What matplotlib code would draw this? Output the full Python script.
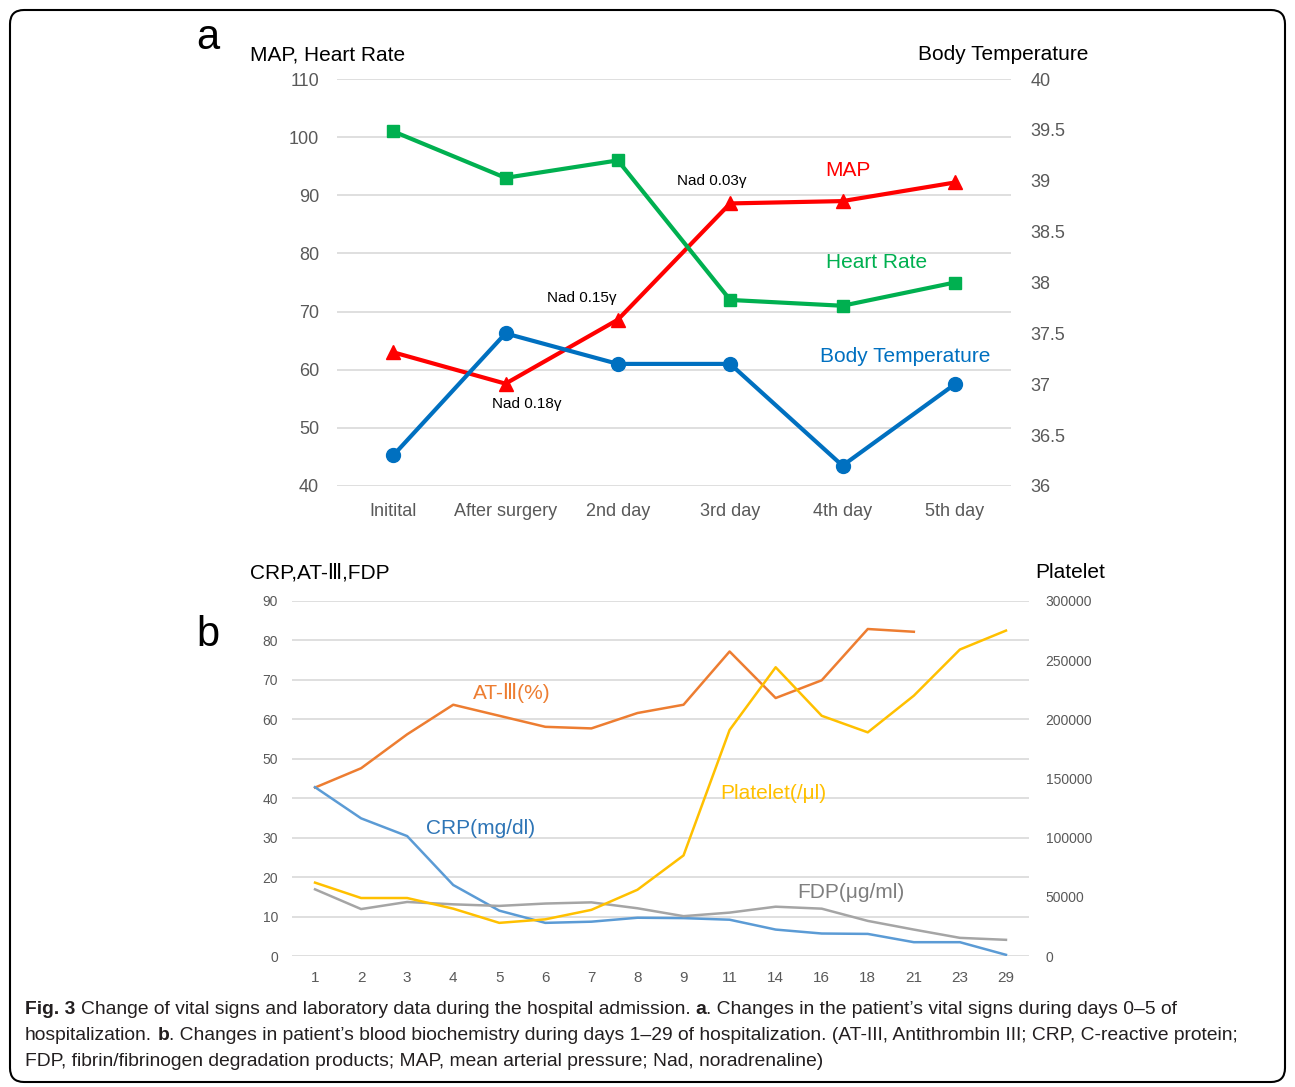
import numpy as np
import matplotlib
matplotlib.use('Agg')
import matplotlib.pyplot as plt
from matplotlib.patches import FancyBboxPatch
from matplotlib.transforms import IdentityTransform
from matplotlib.ticker import FuncFormatter

W, H = 1295, 1087

# panel a: vital signs
days_a = ['Initital', 'After surgery', '2nd day', '3rd day', '4th day', '5th day']
map_vals = [63.0, 57.6, 68.6, 88.6, 89.0, 92.2]
hr_vals = [101.0, 93.0, 96.0, 72.0, 71.0, 75.0]
temp_vals = [36.3, 37.5, 37.2, 37.2, 36.2, 37.0]

# panel b: laboratory data
days_b = ['1', '2', '3', '4', '5', '6', '7', '8', '9', '11', '14', '16', '18', '21', '23', '29']
at3 = [42.7, 47.6, 56.2, 63.7, 60.9, 58.1, 57.7, 61.6, 63.7, 77.2, 65.4, 69.9, 82.9, 82.2, np.nan, np.nan]
crp = [42.8, 34.9, 30.4, 18.0, 11.5, 8.4, 8.7, 9.7, 9.6, 9.2, 6.7, 5.7, 5.6, 3.5, 3.5, 0.3]
fdp = [16.9, 11.9, 13.7, 13.1, 12.7, 13.3, 13.6, 12.1, 10.1, 11.0, 12.5, 12.0, 8.9, 6.7, 4.6, 4.1]
platelet = [62000, 49000, 49000, 40000, 28000, 31000, 39000, 56000, 85000,
            191000, 244000, 203000, 189000, 220000, 259000, 275000]

plt.rcParams['font.family'] = ['Liberation Sans', 'DejaVu Sans', 'Noto Sans CJK JP']

TICK = '#595959'
GRID = '#D9D9D9'


def px(x, y):
    return x / W, 1 - y / H


def clean(ax):
    for s in ax.spines.values():
        s.set_visible(False)
    ax.tick_params(length=0, labelcolor=TICK)


fig = plt.figure(figsize=(W / 100, H / 100), dpi=100)

# ---- panel a ----
ax = fig.add_axes([337 / W, 1 - 486 / H, 674 / W, 407 / H])
xa = np.arange(len(days_a))
ax.set_xlim(-0.5, len(days_a) - 0.5)
ax.set_ylim(40, 110)
ax.set_yticks(np.arange(40, 111, 10))
ax.set_xticks(xa)
ax.set_xticklabels(days_a)
ax.yaxis.grid(True, color=GRID, lw=1.2)
ax.set_axisbelow(True)
clean(ax)
ax.tick_params(labelsize=13)
ax.tick_params(axis='y', pad=13)
ax.tick_params(axis='x', pad=12)
ax.plot(xa, map_vals, color='#FF0000', lw=3, marker='^', ms=10, zorder=3)
ax.plot(xa, hr_vals, color='#00B050', lw=3, marker='s', ms=8, zorder=4)

ax2 = ax.twinx()
ax2.set_ylim(36, 40)
ax2.set_yticks(np.arange(36, 40.01, 0.5))
ax2.yaxis.set_major_formatter(FuncFormatter(lambda v, p: '%g' % v))
clean(ax2)
ax2.tick_params(labelsize=13, pad=14)
ax2.plot(xa, temp_vals, color='#0070C0', lw=3, marker='o', ms=10, zorder=3)

ax.text(4.05, 94.3, 'MAP', color='#FF0000', fontsize=15, ha='center', va='center')
ax.text(4.30, 78.4, 'Heart Rate', color='#00B050', fontsize=15, ha='center', va='center')
ax.text(4.56, 62.2, 'Body Temperature', color='#0070C0', fontsize=15, ha='center', va='center')
ax.text(2.84, 92.5, 'Nad 0.03γ', color='black', fontsize=11, ha='center', va='center')
ax.text(1.68, 72.3, 'Nad 0.15γ', color='black', fontsize=11, ha='center', va='center')
ax.text(1.19, 54.1, 'Nad 0.18γ', color='black', fontsize=11, ha='center', va='center')

fig.text(*px(250, 55), 'MAP, Heart Rate', fontsize=15, ha='left', va='center')
fig.text(*px(1088, 55), 'Body Temperature', fontsize=15, ha='right', va='center')
fig.text(*px(208, 38), 'a', fontsize=30, ha='center', va='center')

# ---- panel b ----
bx = fig.add_axes([292 / W, 1 - 956 / H, 737 / W, 355 / H])
xb = np.arange(len(days_b))
bx.set_xlim(-0.5, len(days_b) - 0.5)
bx.set_ylim(0, 90)
bx.set_yticks(np.arange(0, 91, 10))
bx.set_xticks(xb)
bx.set_xticklabels(days_b)
bx.yaxis.grid(True, color=GRID, lw=1.2)
bx.set_axisbelow(True)
clean(bx)
bx.tick_params(axis='y', labelsize=10, pad=10)
bx.tick_params(axis='x', labelsize=11, pad=11)
bx.plot(xb, at3, color='#ED7D31', lw=1.8, zorder=3)
bx.plot(xb, crp, color='#5B9BD5', lw=1.8, zorder=3)
bx.plot(xb, fdp, color='#A5A5A5', lw=1.8, zorder=3)

bx2 = bx.twinx()
bx2.set_ylim(0, 300000)
bx2.set_yticks(np.arange(0, 300001, 50000))
clean(bx2)
bx2.tick_params(labelsize=10, pad=12)
bx2.plot(xb, platelet, color='#FFC000', lw=1.8, zorder=3)

bx.text(4.28, 66.7, 'AT-Ⅲ(%)', color='#ED7D31', fontsize=15, ha='center', va='center')
bx.text(3.60, 32.2, 'CRP(mg/dl)', color='#2E75B6', fontsize=15, ha='center', va='center')
bx.text(9.94, 41.1, 'Platelet(/μl)', color='#FFC000', fontsize=15, ha='center', va='center')
bx.text(11.63, 16.0, 'FDP(μg/ml)', color='#7F7F7F', fontsize=15, ha='center', va='center')

fig.text(*px(250, 573), 'CRP,AT-Ⅲ,FDP', fontsize=15, ha='left', va='center')
fig.text(*px(1035, 573), 'Platelet', fontsize=15, ha='left', va='center')
fig.text(*px(208, 635), 'b', fontsize=30, ha='center', va='center')

# ---- caption ----
renderer = fig.canvas.get_renderer()
CAP = '#231F20'
cap_size = 13.9


def text_w(s, weight):
    t = fig.text(0, 0, s, fontsize=cap_size, fontweight=weight)
    w = t.get_window_extent(renderer=renderer).width
    t.remove()
    return w


space_w = text_w('x x', 'normal') - text_w('xx', 'normal')


def draw_runs(x, y, runs):
    for s, weight in runs:
        if s.startswith(' '):
            x += space_w
        t = fig.text(*px(x, y), s.strip(), fontsize=cap_size, fontweight=weight,
                     color=CAP, ha='left', va='center')
        x += t.get_window_extent(renderer=renderer).width
        if s.endswith(' '):
            x += space_w


draw_runs(25, 1010, [('Fig. 3', 'bold'),
                     (' Change of vital signs and laboratory data during the hospital admission. ', 'normal'),
                     ('a', 'bold'),
                     ('. Changes in the patient’s vital signs during days 0–5 of', 'normal')])
draw_runs(25, 1036, [('hospitalization. ', 'normal'),
                     ('b', 'bold'),
                     ('. Changes in patient’s blood biochemistry during days 1–29 of hospitalization. '
                      '(AT-III, Antithrombin III; CRP, C-reactive protein;', 'normal')])
draw_runs(25, 1062, [('FDP, fibrin/fibrinogen degradation products; MAP, mean arterial pressure; '
                      'Nad, noradrenaline)', 'normal')])

frame = FancyBboxPatch((10, 5), 1275, 1072, boxstyle='round,pad=0,rounding_size=14',
                       transform=IdentityTransform(), fill=False, ec='black', lw=1.5)
fig.add_artist(frame)

fig.savefig('out.png', dpi=100)
